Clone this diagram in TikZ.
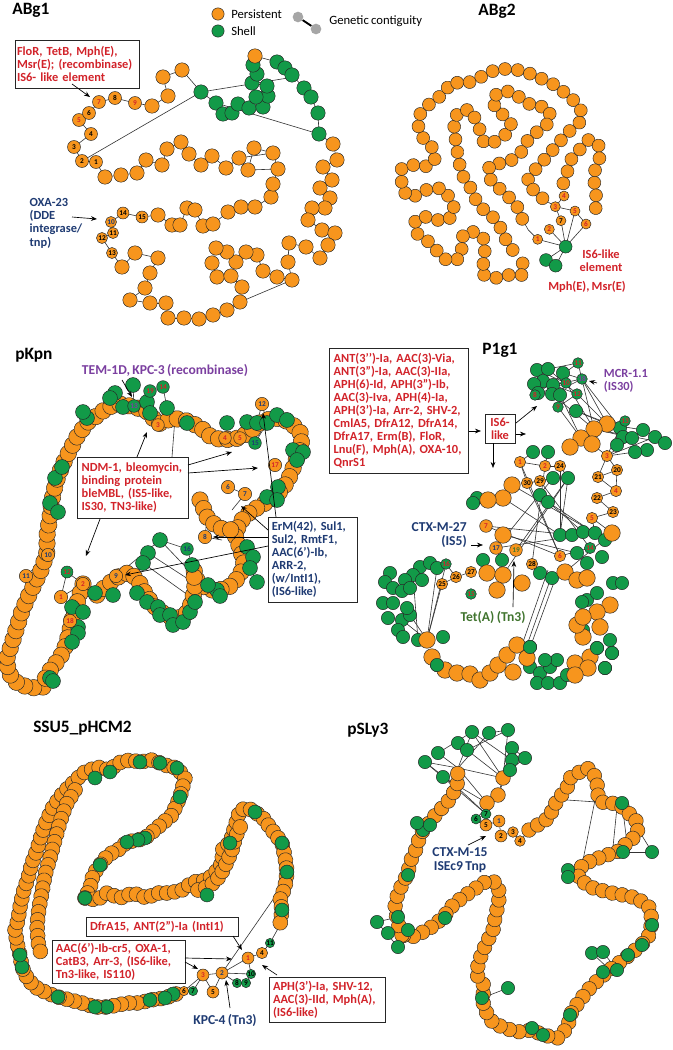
\documentclass[tikz,border=0pt]{standalone}
\usepackage{fontspec}
\setmainfont{Carlito}[WordSpace=0.8]
\usetikzlibrary{decorations.markings,arrows.meta}
\definecolor{P}{HTML}{F7951D}
\definecolor{S}{HTML}{129A48}
\definecolor{rd}{HTML}{D2232A}
\definecolor{nv}{HTML}{1F3B73}
\definecolor{pu}{HTML}{7B3FA0}
\definecolor{tg}{HTML}{41752F}
\definecolor{gy}{HTML}{A6A6A6}
\pgfdeclarelayer{bg}
\pgfsetlayers{bg,main}
\tikzset{
  cb/.style={draw=black!85,line width=0.35pt},
  edge/.style={draw=black!80,line width=0.45pt},
  chn/.style n args={3}{draw=black!80,line width=0.4pt,postaction={decorate,decoration={markings,mark=between positions 0 and 1 step #1 with {\path[cb,fill=#3] (0,0) circle (#2);}}}},
  lab/.style={circle,cb,inner sep=0pt,minimum size=#1,font=\bfseries\fontsize{5.5}{6}\selectfont},
  lab/.default=9pt,
  arr/.style={draw=black,line width=0.5pt,-{Stealth[length=4.5pt,width=3.5pt]}},
  box/.style={draw=black!85,line width=0.7pt,fill=white,align=left,inner xsep=2.8pt,inner ysep=1pt,font=\bfseries\fontsize{9.3}{9.7}\selectfont},
  ann/.style={align=left,inner sep=0pt,font=\bfseries\fontsize{9.3}{9.7}\selectfont},
  annb/.style={align=left,inner sep=0pt,font=\bfseries\fontsize{10.2}{10.6}\selectfont},
  ttl/.style={font=\bfseries\fontsize{13}{15}\selectfont,inner sep=0pt},
  leg/.style={font=\fontsize{9.5}{11}\selectfont,inner sep=0pt,anchor=west},
}
\newcommand\ptchain[2]{%
  \begin{pgfonlayer}{bg}
  \foreach \x/\y/\kk [remember=\x as \lx (initially N),remember=\y as \ly (initially N)] in {#2}{%
    \if N\lx\else\draw[edge] (\lx,\ly)--(\x,\y);\fi}
  \end{pgfonlayer}
  \foreach \x/\y/\kk in {#2}{\if L\kk\else\path[cb,fill=\kk] (\x,\y) circle (#1);\fi}
}
\newcommand\dotset[3]{\foreach \x/\y in {#3}{\path[cb,fill=#1] (\x,\y) circle (#2);}}
\newcommand\edges[1]{\begin{pgfonlayer}{bg}\foreach \ea/\eb/\ec/\ed in {#1}{\draw[edge] (\ea,\eb)--(\ec,\ed);}\end{pgfonlayer}}
\newcommand\arw[3]{\path (#1) coordinate (#3s) (#2) coordinate (#3t); \draw[arr] (#3s)--(#3t);}
\newcommand\lbl[6]{\node[lab=#1,fill=#2,text=#3] (#4) at (#5) {#6};}

\begin{document}
\begin{tikzpicture}[x=0.75pt,y=-0.75pt]
\useasboundingbox (0,0) rectangle (672,1050);
\begin{pgfonlayer}{bg}
\fill[white] (0,0) rectangle (672,1050);
\end{pgfonlayer}

% ---------------- legend ----------------
\path[cb,fill=P] (218,14) circle (4.6pt);
\path[cb,fill=S] (218,31) circle (4.6pt);
\node[leg] (lgp) at (231,14) {Persistent};
\node[leg] (lgs) at (231,31) {Shell};
\node[circle,fill=gy,inner sep=0pt,minimum size=8pt] (lg1) at (298,17) {};
\node[circle,fill=gy,inner sep=0pt,minimum size=8pt] (lg2) at (316,29) {};
\draw[line width=1.4pt] (lg1)--(lg2);
\node[leg] (lgc) at (329,21) {Genetic contiguity};

% ---------------- titles ----------------
\node[ttl,anchor=west] (t1) at (12,10) {ABg1};
\node[ttl] (t2) at (497,11) {ABg2};
\node[ttl,anchor=west] (t3) at (15,355) {pKpn};
\node[ttl] (t4) at (500,350) {P1g1};
\node[ttl,anchor=west] (t5) at (33,728) {SSU5\_pHCM2};
\node[ttl,anchor=west] (t6) at (347,730) {pSLy3};

% ================= ABg1 =================
\ptchain{5.4pt}{96/162/L, 82/161/L, 74/147/L, 91/134/L, 79/120/L, 89/113/L, 99/102/L, 115/98/L, 135/103/L, 152/106/P, 168/96/P, 163/77/P, 182/70/P, 201/92/S, 216/103/S, 223/114/S, 232/113/S, 238/104/S, 249/108/S, 263/107/S, 268/96/S, 256/97/S, 267/86/S, 252/83/S, 257/74/S, 253/65/S, 255/56/P, 277/62/S, 285/68/S, 292/75/S, 304/88/S, 311/97/S, 318/113/S, 319/134/S, 333/144/P, 337/160/P, 323/167/P, 332/180/P, 320/188/P, 330/198/P, 325/208/P, 312/208/P, 308/220/P, 322/230/P, 335/233/P, 328/245/P, 320/258/P, 306/247/P, 289/243/P, 288/262/P, 292/280/P, 277/277/P, 263/271/P, 257/255/P, 246/252/P, 236/262/P, 227/252/P, 216/248/P, 212/263/P, 217/277/P, 231/276/P, 242/287/P, 240/302/P, 227/310/P, 213/315/P, 199/319/P, 184/318/P, 168/318/P, 166/303/P, 150/303/P, 130/300/P, 145/288/P, 150/273/P, 158/258/P, 135/253/P, 122/267/P, 112/253/L, 102/238/L, 113/233/L, 111/222/L, 123/213/L, 142/217/L, 158/215/P, 172/225/P, 180/225/P, 187/208/P, 195/210/P, 203/226/P, 213/224/P, 228/212/P, 241/207/P, 255/207/P, 271/197/P, 273/184/P, 278/169/P, 273/153/P, 254/148/P, 248/170/P, 239/158/P, 226/168/P, 212/156/P, 201/165/P, 189/154/P, 181/142/P, 167/149/P, 162/165/P, 146/160/P, 137/173/P, 121/175/P, 105/177/P, 96/162/L}
\edges{82/161/201/92, 201/92/288/78, 216/103/319/134, 240/302/292/280, 239/158/273/153, 248/170/278/169}
\lbl{9.75pt}{P}{black}{a1}{96,162}{1}
\lbl{9.75pt}{P}{black}{a2}{82,161}{2}
\lbl{9.75pt}{P}{black}{a3}{74,147}{3}
\lbl{9.75pt}{P}{black}{a4}{91,134}{4}
\lbl{9.75pt}{P}{rd}{a5}{79,120}{5}
\lbl{9.75pt}{P}{black}{a6}{89,113}{6}
\lbl{9.75pt}{P}{rd}{a7}{99,102}{7}
\lbl{9.75pt}{P}{black}{a8}{115,98}{8}
\lbl{9.75pt}{P}{rd}{a9}{135,103}{9}
\lbl{8.3pt}{P}{nv}{a10}{111,222}{10}
\lbl{8.3pt}{P}{black}{a11}{113,233}{11}
\lbl{8.3pt}{P}{black}{a12}{102,238}{12}
\lbl{8.3pt}{P}{black}{a13}{112,253}{13}
\lbl{9pt}{P}{black}{a14}{123,213}{14}
\lbl{9pt}{P}{black}{a15}{142,217}{15}
\node[box,text=rd,inner xsep=1.5pt,minimum width=91pt,minimum height=36pt,text width=90pt] (abox) at (77,64) {FloR, TetB, Mph(E),\\Msr(E); (recombinase)\\IS6- like element};
\arw{72,84}{90,97}{ab1}
\node[ann,text=nv,font=\bfseries\fontsize{9.3}{10}\selectfont] (oxa) at (56,223) {OXA-23\\(DDE\\integrase/\\tnp)};
\arw{72,217}{97,219}{ab2}

% ================= ABg2 =================
\begin{scope}[shift={(330,0)},x=0.25pt,y=-0.25pt]
\path[chn={9.6pt}{4.85pt}{P}] plot coordinates {(578,790) (578,825) (535,825) (492,835) (455,822) (462,780) (465,745) (460,715) (435,695) (400,700) (395,735) (395,770) (370,785) (338,775) (315,745) (290,720) (260,700) (255,660) (290,650) (322,660) (355,660) (375,630) (360,595) (338,565) (305,565) (272,575) (245,595) (215,570) (215,540) (215,505) (248,495) (285,500) (315,485) (310,445) (285,425) (265,385) (268,345) (300,310) (340,282) (365,245) (402,252) (437,240) (468,222) (503,207) (542,207) (582,213) (620,230) (663,248) (700,275) (735,305) (755,335) (748,368) (713,398) (685,430) (658,462) (633,490) (610,515) (590,545) (612,572) (640,597)};
\path[chn={9.6pt}{4.85pt}{P}] plot coordinates {(548,750) (525,715) (510,680) (480,640) (455,625) (435,595) (420,560) (400,530) (390,500) (385,470) (378,435) (375,400) (370,360) (390,330) (425,330) (440,370) (455,400) (462,430) (495,425) (525,405) (545,375) (520,345) (495,325) (488,290) (520,272) (553,278) (582,305) (618,320) (650,320) (665,355) (645,380) (615,400) (585,430) (572,460) (545,480) (510,490) (478,495) (475,530) (495,555) (520,575) (545,600) (565,625) (578,660) (595,690)};
\path[chn={9.6pt}{4.85pt}{P}] plot coordinates {(700,550) (712,515) (722,480) (748,450) (775,420) (805,430) (810,470) (790,525) (795,562) (800,600) (795,640)};
\dotset{S}{4.8pt}{707/740, 648/780, 677/797}
\edges{707/740/623/718, 707/740/658/688, 707/740/693/662, 707/740/735/633, 707/740/768/672, 707/740/648/780, 707/740/677/797, 676/620/693/662, 676/620/735/633, 676/620/702/588, 735/633/768/672, 640/597/676/620, 595/690/623/718}
\lbl{7.5pt}{P}{rd}{b1}{623,718}{1}
\lbl{7.5pt}{P}{rd}{b2}{658,688}{2}
\lbl{7.5pt}{P}{rd}{b3}{676,620}{3}
\lbl{7.5pt}{P}{rd}{b4}{702,588}{4}
\lbl{7.5pt}{P}{rd}{b5}{735,633}{5}
\lbl{7.5pt}{P}{rd}{b6}{768,672}{6}
\lbl{7.5pt}{P}{black}{b7}{693,662}{7}
\end{scope}
\node[ann,text=rd,align=center] (is6b) at (601,261) {IS6-like\\element};
\node[ann,text=rd] (mphb) at (587,287) {Mph(E), Msr(E)};

% ================= pKpn =================
\path[chn={7pt}{6.2pt}{P}] plot coordinates {(43,687) (30,688) (17,683) (8,672) (7,658) (12,643) (17,627) (22,611) (28,597) (35,583) (42,568) (47,552) (47,535) (50,517) (52,500) (56,482) (62,466) (70,450) (78,435) (88,422) (98,415) (108,407) (120,404) (135,407) (148,412) (158,424) (173,418) (187,421) (200,427) (210,436) (222,440) (240,438) (252,430) (262,421) (276,418) (290,422) (300,432) (302,446) (296,460) (291,474) (284,487) (275,497) (262,505) (250,512) (240,522) (235,535) (240,548) (244,562) (240,576) (229,587) (216,591) (205,588) (197,580) (193,567)};
\path[chn={7pt}{6.2pt}{P}] plot coordinates {(83,584) (78,600) (73,615) (70,630) (66,645) (60,658) (51,669) (43,682)};
\path[chn={7pt}{6.2pt}{P}] plot coordinates {(97,595) (107,585) (118,577) (130,572) (139,582) (146,595) (154,606) (164,614) (175,619) (185,616) (191,604) (195,589) (194,575)};
\path[chn={7pt}{6.2pt}{P}] plot coordinates {(200,500) (207,517) (218,528) (232,530)};
\dotset{S}{5.6pt}{55/478, 62/467, 50/503, 58/512, 87/418, 83/412, 115/393, 110/398, 123/407, 133/385, 147/402, 150/413, 167/408, 187/423, 227/423, 247/422, 257/423, 267/423, 277/415, 287/420, 293/450, 303/452, 297/460, 278/487, 267/497, 277/500, 247/547, 253/557, 250/568, 257/582, 217/590, 220/596, 208/585, 160/540, 148/553, 143/563, 192/565, 137/593, 147/602, 158/607, 160/615, 170/615, 173/625, 183/622, 190/612, 195/602, 95/593, 113/595, 72/607, 83/612, 78/627, 78/633, 72/642, 50/678, 53/681}
\edges{48/555/26/576, 26/576/33/590, 48/555/42/570, 67/572/61/597, 67/572/83/584, 61/597/83/584, 83/584/72/607, 83/584/83/612, 83/584/78/627, 61/597/72/607, 70/621/72/607, 255/443/247/422, 255/443/257/423, 255/443/267/423, 255/443/240/438, 134/406/133/385, 134/406/150/391, 150/391/163/387, 163/387/167/408, 150/391/150/413, 134/406/147/402, 158/425/172/418, 228/487/245/494, 245/494/232/510, 205/537/207/518, 205/537/222/540, 116/576/130/572, 116/576/107/585, 187/549/160/540, 187/549/193/567, 160/540/200/582, 148/553/205/590, 143/563/195/600, 160/540/116/576, 262/404/257/423, 262/404/267/423, 172/457/175/418}
\lbl{9.5pt}{S}{pu}{k13}{134,406}{13}
\lbl{9.5pt}{S}{rd}{k19}{150,391}{19}
\lbl{9.5pt}{S}{rd}{k14}{163,387}{14}
\lbl{9.5pt}{P}{rd}{k3}{158,425}{3}
\lbl{9.5pt}{P}{rd}{k4}{225,438}{4}
\lbl{9.5pt}{P}{rd}{k5}{240,438}{5}
\lbl{9.5pt}{S}{nv}{k15}{255,443}{15}
\lbl{10pt}{P}{nv}{k12}{262,404}{12}
\lbl{10pt}{P}{rd}{k17}{275,465}{17}
\lbl{10pt}{P}{nv}{k6}{228,487}{6}
\lbl{10pt}{P}{nv}{k7}{245,494}{7}
\lbl{10pt}{P}{nv}{k8}{205,537}{8}
\lbl{9.5pt}{S}{nv}{k16}{187,549}{16}
\lbl{10pt}{P}{nv}{k9}{116,576}{9}
\lbl{10pt}{P}{nv}{k10}{48,555}{10}
\lbl{10pt}{P}{nv}{k11}{26,576}{11}
\lbl{9pt}{S}{rd}{k12b}{67,572}{12}
\lbl{10pt}{P}{rd}{k2}{83,584}{2}
\lbl{10pt}{P}{rd}{k1}{61,597}{1}
\lbl{10pt}{P}{rd}{k18}{70,621}{18}
\node[annb,text=pu] (tem) at (165,370) {TEM-1D, KPC-3 (recombinase)};
\arw{122,380}{132,397}{kp1}
\node[box,text=rd,minimum width=82.5pt,minimum height=45.75pt,text width=77pt] (ndm) at (133,487.5) {NDM-1, bleomycin,\\binding protein\\bleMBL, (IS5-like,\\IS30, TN3-like)};
\arw{137,457}{147,432}{kp2}
\arw{188,465}{232,452}{kp3}
\arw{188,473}{258,468}{kp4}
\arw{100,519}{86,556}{kp5}
\node[box,text=nv,minimum width=66.75pt,minimum height=63.75pt,text width=61pt] (erm) at (312.5,559.5) {ErM(42), Sul1,\\Sul2, RmtF1,\\AAC(6')-Ib,\\ARR-2,\\(w/IntI1),\\(IS6-like)};
\arw{268,530}{241,506}{kp6}
\arw{268,537}{213,537}{kp7}
\arw{268,546}{125,575}{kp8}
\arw{276,517}{263,413}{kp9}

% ================= P1g1 =================
\dotset{S}{5pt}{537/370, 548/369, 563/373, 543/381, 534/384, 553/385, 538/393, 552/394, 560/395, 576/411, 620/428, 623/437, 643/430, 655/437, 665/443, 647/450, 635/452, 617/445, 632/438, 533/452, 548/452, 553/478, 568/478, 540/495, 548/502, 477/498, 473/503, 560/535, 572/535, 583/532, 595/533, 605/540, 577/553, 602/557, 587/563, 540/573, 552/578, 502/560, 483/560, 420/567, 430/563, 437/568, 413/575, 405/580, 390/573, 385/582, 393/588, 402/591, 410/588, 422/580, 383/603, 393/603, 388/618, 402/620, 410/615, 407/608, 398/630, 403/637, 418/640, 443/637, 437/665, 530/647, 530/667, 540/673, 550/667, 557/660, 537/683, 548/683, 560/683, 567/675, 545/660, 597/648, 610/640, 612/653, 605/668, 587/600, 597/593, 582/602, 613/583, 622/583, 583/630}
\dotset{P}{6.2pt}{607/424, 594/429, 581/438, 570/447, 592/444, 612/533, 512/485, 503/498, 488/500, 503/535, 487/573, 503/575, 522/583, 497/590, 565/572, 577/580, 587/578, 610/605, 597/612, 600/627, 583/637, 577/625, 583/617, 590/657, 575/663, 588/668, 575/675, 427/640, 432/657, 445/670, 457/673, 470/674, 480/680, 490/673, 498/665, 507/655, 517/645, 527/658, 513/672}
\dotset{S}{5pt}{597/648, 612/653, 605/668, 437/665, 530/647}
\edges{537/370/566/383, 548/369/577/394, 543/381/577/394, 534/384/566/383, 553/385/582/379, 538/393/578/363, 552/394/582/379, 535/395/566/383, 558/407/577/394, 563/373/582/379, 548/369/578/363, 566/383/594/429, 577/394/607/424, 582/379/607/424, 578/363/594/429, 576/411/607/424, 558/407/581/438, 552/394/594/429, 560/395/581/438, 576/411/620/428, 582/379/620/428, 607/424/643/430, 607/456/620/428, 607/456/643/430, 607/456/655/437, 594/429/665/443, 594/429/632/438, 607/456/635/452, 607/456/617/470, 617/470/598/477, 598/477/616/491, 616/491/597/498, 597/498/613/512, 613/512/592/518, 592/518/612/533, 607/456/598/477, 617/470/616/491, 520/462/560/556, 527/483/560/556, 540/481/590/548, 545/466/532/564, 568/478/516/550, 568/478/503/575, 553/478/496/548, 486/526/560/556, 503/535/577/553, 503/498/560/535, 512/485/595/533, 548/502/605/540, 540/495/583/532, 568/478/560/535, 560/466/560/535, 486/526/572/535, 496/548/595/533, 520/462/533/452, 520/462/545/466, 545/466/548/452, 545/466/560/466, 527/483/540/481, 520/462/527/483, 560/466/568/478, 540/481/553/478, 471/572/456/577, 456/577/442/584, 446/564/456/577, 442/584/427/640, 446/564/427/640, 437/568/427/640, 410/615/427/640, 402/620/427/640, 413/575/418/640, 548/570/522/645, 553/572/527/645, 557/574/531/645, 565/572/612/533, 560/556/590/548, 592/518/595/533, 592/444/607/456}
\lbl{8.5pt}{P}{rd}{p1}{520,462}{1}
\lbl{8.5pt}{P}{rd}{p2}{545,466}{2}
\lbl{8.5pt}{P}{black}{p24}{560,466}{24}
\lbl{8.5pt}{P}{black}{p30}{527,483}{30}
\lbl{8.5pt}{P}{black}{p29}{540,481}{29}
\lbl{8.5pt}{P}{rd}{p3}{607,456}{3}
\lbl{8.5pt}{P}{black}{p20}{617,470}{20}
\lbl{8.5pt}{P}{black}{p21}{598,477}{21}
\lbl{8.5pt}{P}{rd}{p4}{616,491}{4}
\lbl{8.5pt}{P}{black}{p22}{597,498}{22}
\lbl{8.5pt}{P}{black}{p23}{613,512}{23}
\lbl{8.5pt}{P}{rd}{p5}{592,518}{5}
\lbl{8.5pt}{P}{rd}{p6}{560,556}{6}
\lbl{8.5pt}{S}{rd}{p14}{590,548}{14}
\lbl{9.5pt}{P}{rd}{p7}{486,526}{7}
\lbl{9.5pt}{P}{nv}{p17}{496,548}{17}
\lbl{9.5pt}{P}{tg}{p19}{516,550}{19}
\lbl{8.5pt}{P}{black}{p28}{532,564}{28}
\lbl{8.5pt}{P}{black}{p27}{471,572}{27}
\lbl{8.5pt}{P}{black}{p26}{456,577}{26}
\lbl{8.5pt}{P}{black}{p25}{442,584}{25}
\lbl{8pt}{S}{rd}{p16}{446,564}{16}
\lbl{8pt}{S}{rd}{p15}{471,594}{15}
\lbl{8pt}{S}{rd}{p11}{578,363}{11}
\lbl{8pt}{S}{rd}{p10}{566,383}{10}
\lbl{8pt}{S}{pu}{p18}{582,379}{18}
\lbl{8pt}{S}{rd}{p8}{535,395}{8}
\lbl{8pt}{S}{rd}{p12}{577,394}{12}
\lbl{8pt}{S}{rd}{p9}{558,407}{9}
\lbl{8pt}{S}{rd}{p13}{625,421}{13}
\node[box,text=rd,minimum width=103.5pt,minimum height=93.75pt,text width=98pt] (pbox) at (399,410.5) {ANT(3'{}')-Ia, AAC(3)-Via,\\ANT(3")-Ia, AAC(3)-IIa,\\APH(6)-Id, APH(3")-Ib,\\AAC(3)-Iva, APH(4)-Ia,\\APH(3')-Ia, Arr-2, SHV-2,\\CmlA5, DfrA12, DfrA14,\\DfrA17, Erm(B), FloR,\\Lnu(F), Mph(A), OXA-10,\\QnrS1};
\node[box,text=rd,align=center,minimum width=22.5pt,minimum height=21.75pt,inner xsep=1pt] (isb) at (500,428.5) {IS6-\\like};
\arw{469,431}{481,431}{pa1}
\arw{516,423}{537,406}{pa2}
\arw{516,434}{526,434}{pa3}
\arw{493,443}{493,468}{pa4}
\node[ann,text=pu] (mcr) at (626,381) {MCR-1.1\\(IS30)};
\arw{597,383}{589,381}{pa5}
\node[annb,text=nv,align=right,anchor=east] (ctx27) at (467,535) {CTX-M-27\\(IS5)};
\arw{471,545}{483,545}{pa6}
\node[annb,text=tg] (teta) at (493,617) {Tet(A) (Tn3)};
\arw{513,607}{514,561}{pa7}

% ================= SSU5_pHCM2 =================
\path[chn={6pt}{5.6pt}{P}] plot coordinates {(176,994) (165,998) (150,1000) (140,1003) (128,1003) (117,1005) (107,1007) (95,1007) (82,1003) (70,1000) (58,997) (47,993) (37,988) (28,980) (22,967) (20,955) (17,943) (15,930) (18,920) (20,907) (23,893) (28,878) (32,863) (37,850) (42,833) (47,820) (53,807) (63,793) (73,783) (83,773) (97,767) (110,770) (118,763) (130,760) (140,762) (152,760) (160,763) (168,766) (177,768) (185,778) (180,797) (172,815) (157,828) (145,838) (138,840) (127,842) (118,850) (108,855) (100,865) (93,875) (90,888) (85,898)};
\path[chn={6pt}{5.6pt}{P}] plot coordinates {(75,790) (66,805) (60,822) (55,840) (50,858) (45,875) (42,892) (39,908) (37,925) (38,942) (42,958)};
\path[chn={6pt}{5.6pt}{P}] plot coordinates {(85,898) (97,900) (107,893) (120,898) (133,893) (147,898) (157,893) (170,893) (182,890) (193,882) (207,880) (215,873) (222,863) (223,847) (230,843) (233,833) (237,820) (240,810) (248,808) (255,812) (263,818) (272,830) (282,843) (285,857) (287,872) (285,887) (280,900) (282,910) (280,925)};
\path[chn={6pt}{5.6pt}{P}] plot coordinates {(198,890) (210,886) (220,876) (227,862) (232,850) (236,836) (242,823)};
\dotset{S}{5.2pt}{173/994, 165/998, 150/1000, 107/1007, 95/1007, 58/997, 22/967, 20/955, 95/778, 110/772, 140/762, 160/763, 177/768, 180/797, 145/838, 138/840, 127/842, 100/865, 85/898, 207/895, 230/843, 255/812, 282/843, 287/872, 282/910}
\edges{203/975/222/973, 222/973/248/958, 248/958/262/953, 262/953/270/943, 270/943/280/925, 222/973/213/992, 203/975/213/992, 203/975/184/991, 203/975/193/991, 222/973/237/983, 237/983/246/983, 246/983/251/974, 222/973/251/974, 248/958/251/974, 222/973/274/898, 184/991/176/994}
\lbl{9pt}{P}{rd}{s1}{248,958}{1}
\lbl{9pt}{P}{nv}{s2}{222,973}{2}
\lbl{9pt}{P}{rd}{s3}{203,975}{3}
\lbl{8.5pt}{P}{black}{s4}{262,953}{4}
\lbl{9pt}{P}{black}{s5}{213,992}{5}
\lbl{7pt}{P}{black}{s6}{184,991}{6}
\lbl{7pt}{S}{black}{s7}{193,991}{7}
\lbl{7pt}{S}{black}{s8}{237,983}{8}
\lbl{7pt}{S}{black}{s9}{246,983}{9}
\lbl{7pt}{S}{black}{s10}{251,974}{10}
\lbl{7pt}{S}{black}{s11}{270,943}{11}
\node[box,text=rd,minimum width=114pt,minimum height=14.25pt,text width=108pt] (dfr) at (162,926.5) {DfrA15, ANT(2")-Ia (IntI1)};
\arw{233,936}{242,950}{sa1}
\node[box,text=rd,minimum width=99.75pt,minimum height=32.25pt,text width=94pt] (aac) at (118.5,961.5) {AAC(6')-Ib-cr5, OXA-1,\\CatB3, Arr-3, (IS6-like,\\Tn3-like, IS110)};
\arw{185,958}{232,959}{sa2}
\arw{185,962}{198,969}{sa3}
\node[box,text=rd,minimum width=87pt,minimum height=33.75pt,text width=81pt] (aph) at (327,999.5) {APH(3')-Ia, SHV-12,\\AAC(3)-IId, Mph(A),\\(IS6-like)};
\arw{277,975}{262,965}{sa4}
\node[annb,text=nv] (kpc4) at (225,1020) {KPC-4 (Tn3)};
\arw{230,1008}{226,980}{sa5}

% ================= pSLy3 =================
\path[chn={7.5pt}{5.5pt}{P}] plot coordinates {(529,830) (541,823) (550,817) (553,807) (560,797) (567,788) (570,778) (578,773) (587,768) (593,772) (597,783) (598,795) (600,802) (612,803) (622,807) (627,812) (635,818) (638,827) (637,835) (627,843) (617,852) (607,855) (593,860) (582,865) (578,878) (590,887) (600,890) (612,893) (623,895) (637,898) (650,908) (652,922) (648,938) (640,946) (633,952) (623,960) (612,968) (600,978) (588,990) (578,1003) (570,1015) (568,1027) (558,1038) (543,1035) (532,1030) (517,1032) (505,1028) (493,1023) (485,1010) (482,998) (485,987) (477,975) (478,965) (482,953) (487,942) (493,930) (495,918) (498,905) (500,893) (495,882) (485,882) (473,890) (463,897) (453,905) (445,915) (435,925) (423,932) (412,937) (402,935)};
\path[chn={7.5pt}{5.5pt}{P}] plot coordinates {(402,935) (397,920) (395,905) (398,893) (403,883) (408,873) (410,862) (415,852) (418,842) (423,830) (430,822) (437,813) (447,803) (457,787) (458,768)};
\dotset{P}{5.5pt}{503/778, 498/795, 487/803}
\dotset{S}{5pt}{443/777, 425/762, 438/753, 458/743, 467/750, 472/732, 489/733, 508/730, 512/748, 512/760, 510/770, 525/758, 423/830, 417/823, 430/825, 408/875, 398/917, 398/947, 388/933, 377/922, 408/930, 445/918, 482/998, 508/988, 543/1035, 532/1028, 570/1015, 617/970, 603/972, 592/953, 603/952, 628/955, 652/925, 642/945, 622/803, 623/852, 652/852, 568/870, 568/877}
\edges{486/814/476/819, 486/814/486/825, 499/821/501/836, 501/836/513/832, 513/832/520/841, 499/821/486/825, 486/825/476/819, 520/841/529/830, 486/814/487/803, 458/768/425/762, 458/768/438/753, 458/768/472/732, 458/768/489/733, 458/768/503/778, 457/787/425/762, 457/787/443/777, 457/787/486/814, 487/803/458/768, 503/778/458/743, 503/778/472/732, 503/778/508/730, 498/795/512/760, 510/770/525/758, 512/748/525/758, 489/733/508/730, 467/750/508/730, 438/753/472/732, 443/777/487/803, 425/762/486/814, 498/795/476/819, 512/748/498/795, 472/732/512/760, 567/800/597/802, 595/800/583/860, 617/807/613/847, 622/803/652/852, 623/852/652/852, 622/803/627/843, 377/922/398/947, 388/933/408/930, 377/922/398/917, 398/947/412/937, 482/998/508/988, 592/953/603/952, 603/952/617/970, 592/953/610/970, 603/972/628/955}
\lbl{9pt}{P}{nv}{q1}{499,821}{1}
\lbl{9pt}{P}{black}{q2}{501,836}{2}
\lbl{8pt}{P}{black}{q3}{513,832}{3}
\lbl{8pt}{P}{black}{q4}{520,841}{4}
\lbl{9pt}{P}{black}{q5}{486,825}{5}
\lbl{7.5pt}{S}{black}{q6}{476,819}{6}
\lbl{7.5pt}{S}{black}{q7}{486,814}{7}
\node[annb,text=nv,align=center] (ctx15) at (460,860) {CTX-M-15\\ISEc9 Tnp};
\arw{468,845}{486,836}{qa1}
\end{tikzpicture}
\end{document}
